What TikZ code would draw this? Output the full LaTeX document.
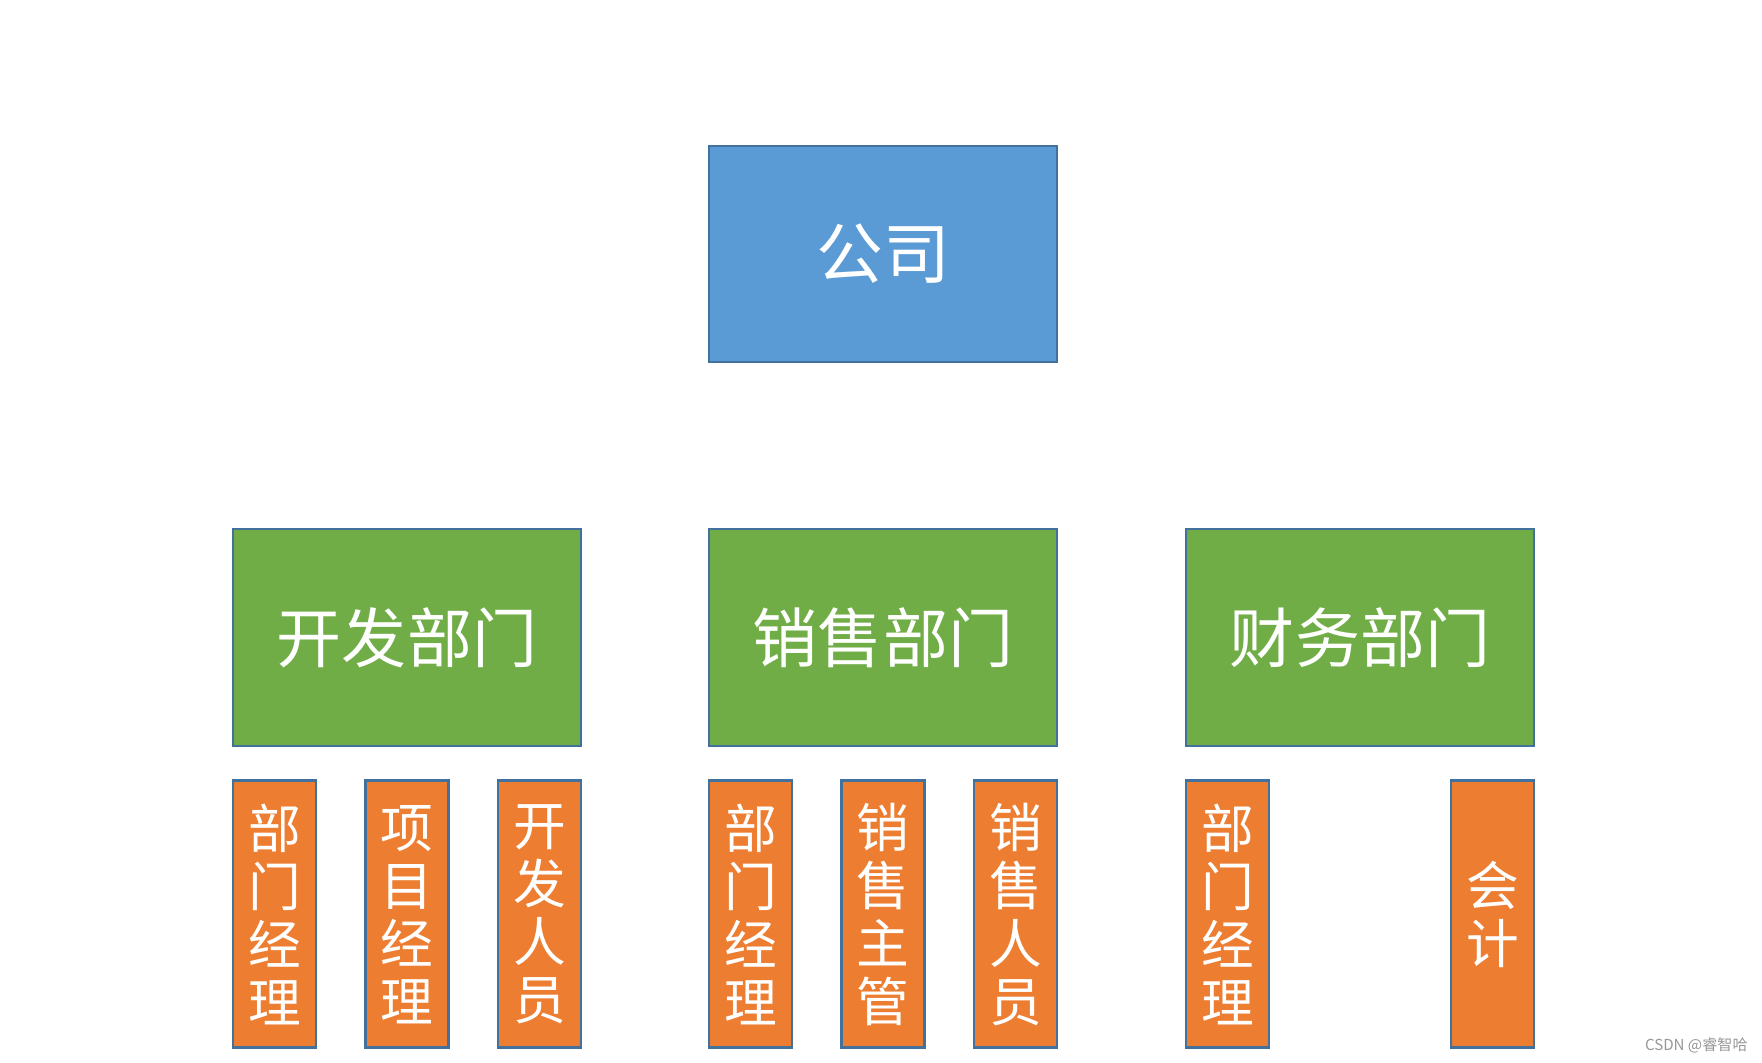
\documentclass[tikz,border=0pt]{standalone}
\usepackage{fontspec}
\newfontfamily\cjk{Noto Sans CJK SC}
\usetikzlibrary{positioning}
\definecolor{cTop}  {RGB}{ 91,155,213}
\definecolor{cDept} {RGB}{112,173, 71}
\definecolor{cRole} {RGB}{237,125, 49}
\definecolor{cEdge} {RGB}{ 65,113,156}
\definecolor{cMark} {RGB}{150,150,150}

\begin{document}
\begin{tikzpicture}[
  %% company box (blue)
  topbox/.style={
    rectangle, draw=cEdge, fill=cTop, line width=0.8pt,
    minimum width=3.48cm, minimum height=2.16cm, inner sep=0pt,
    font=\cjk\fontsize{19}{22}\selectfont, text=white
  },
  %% department box (green)
  deptbox/.style={
    rectangle, draw=cEdge, fill=cDept, line width=0.8pt,
    minimum width=3.48cm, minimum height=2.17cm, inner sep=0pt,
    font=\cjk\fontsize{18.5}{21}\selectfont, text=white
  },
  %% role box (orange, text stacked)
  rolebox/.style={
    rectangle, draw=cEdge, fill=cRole, line width=0.8pt,
    minimum width=0.83cm, minimum height=2.67cm, inner sep=0pt,
    font=\cjk\fontsize{15}{16.5}\selectfont, text=white, align=center
  },
  wmark/.style={
    font=\cjk\fontsize{4.3}{5}\selectfont, text=cMark, anchor=east
  },
]

%% ── Canvas ───────────────────────────────────────────────────────────────────
\useasboundingbox (0,0) rectangle (17.62,10.62);

\def\yDept{4.245}  % department row
\def\gap{3.2mm}    % gap under a department box

%% ── Company ──────────────────────────────────────────────────────────────────
\node[topbox] (company) at (8.83,8.08) {公司};

%% ── Departments ──────────────────────────────────────────────────────────────
\node[deptbox] (dev)   at (4.07,\yDept)  {开发部门};
\node[deptbox] (sales) at (8.83,\yDept)  {销售部门};
\node[deptbox] (fin)   at (13.60,\yDept) {财务部门};

%% ── Roles: development ───────────────────────────────────────────────────────
\node[rolebox, below right=\gap and 0mm of dev.south west] (devMgr)  {部\\门\\经\\理};
\node[rolebox, below=\gap of dev.south]                    (devProj) {项\\目\\经\\理};
\node[rolebox, below left=\gap and 0mm of dev.south east]  (devStaff){开\\发\\人\\员};

%% ── Roles: sales ─────────────────────────────────────────────────────────────
\node[rolebox, below right=\gap and 0mm of sales.south west] (salesMgr)  {部\\门\\经\\理};
\node[rolebox, below=\gap of sales.south]                    (salesSup)  {销\\售\\主\\管};
\node[rolebox, below left=\gap and 0mm of sales.south east]  (salesStaff){销\\售\\人\\员};

%% ── Roles: finance ───────────────────────────────────────────────────────────
\node[rolebox, below right=\gap and 0mm of fin.south west] (finMgr) {部\\门\\经\\理};
\node[rolebox, below left=\gap and 0mm of fin.south east]  (finAcc) {会\\计};

%% ── Watermark ────────────────────────────────────────────────────────────────
\node[wmark] (wm) at (17.60,0.17) {CSDN @睿智哈};

\end{tikzpicture}
\end{document}
